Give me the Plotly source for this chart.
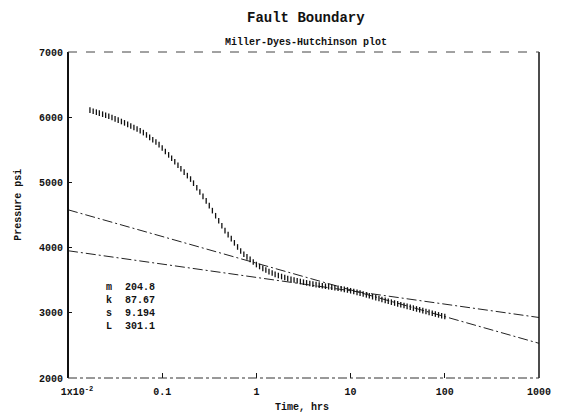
import plotly.graph_objects as go

# Drawdown data: elapsed time (hrs) and bottom-hole pressure (psi)
time_hrs = [
    0.0171, 0.0185, 0.0200, 0.0215, 0.0233, 0.0251, 0.0271, 0.0293, 0.0316, 0.0341,
    0.0369, 0.0398, 0.0430, 0.0464, 0.0501, 0.0541, 0.0584, 0.0631, 0.0681, 0.0736,
    0.0794, 0.0858, 0.0926,
    0.100, 0.108, 0.117, 0.126, 0.136, 0.147, 0.158, 0.171, 0.185, 0.200,
    0.215, 0.233, 0.251, 0.271, 0.293, 0.316, 0.341, 0.369, 0.398, 0.430,
    0.464, 0.501, 0.541, 0.584, 0.631, 0.681, 0.736, 0.794, 0.858, 0.926,
    1.00, 1.08, 1.17, 1.26, 1.36, 1.47, 1.58, 1.71, 1.85, 2.00,
    2.15, 2.33, 2.51, 2.71, 2.93, 3.16, 3.41, 3.69, 3.98, 4.30,
    4.64, 5.01, 5.41, 5.84, 6.31, 6.81, 7.36, 7.94, 8.58, 9.26,
    10.0, 10.8, 11.7, 12.6, 13.6, 14.7, 15.8, 17.1, 18.5, 20.0,
    21.5, 23.3, 25.1, 27.1, 29.3, 31.6, 34.1, 36.9, 39.8, 43.0,
    46.4, 50.1, 54.1, 58.4, 63.1, 68.1, 73.6, 79.4, 85.8, 92.6, 100.0,
]
pressure_psi = [
    6108, 6092, 6077, 6062, 6046, 6031, 6015, 5995, 5975, 5955,
    5934, 5913, 5890, 5866, 5842, 5818, 5793, 5764, 5728, 5691,
    5655, 5619, 5579,
    5527, 5475, 5422, 5370, 5317, 5263, 5210, 5158, 5104, 5051,
    4988, 4919, 4852, 4785, 4716, 4644, 4567, 4489, 4412, 4335,
    4261, 4199, 4137, 4073, 4010, 3948, 3897, 3858, 3819, 3779,
    3740, 3710, 3682, 3656, 3632, 3610, 3590, 3572, 3556, 3541,
    3527, 3514, 3502, 3491, 3480, 3469, 3459, 3449, 3440, 3432,
    3424, 3416, 3408, 3400, 3392, 3384, 3376, 3368, 3359, 3350,
    3338, 3326, 3314, 3301, 3288, 3275, 3261, 3247, 3233, 3219,
    3205, 3191, 3177, 3163, 3150, 3137, 3124, 3111, 3098, 3085,
    3072, 3059, 3046, 3033, 3020, 3007, 2994, 2981, 2968, 2955, 2943,
]

# Semilog straight lines: early-time (slope m) and post-fault (slope 2m)
fit_time = [0.01, 1000]
fit_early_psi = [3952, 2928]
fit_fault_psi = [4580, 2532]

# Analysis results
result_names = ["m", "k", "s", "L"]
result_values = ["204.8", "87.67", "9.194", "301.1"]

tick_vals = [0.01, 0.1, 1, 10, 100, 1000]
tick_text = ["&nbsp;&nbsp;&nbsp;1x10<sup>-2</sup>", "0.1", "1", "10", "100", "1000"]
y_ticks = [2000, 3000, 4000, 5000, 6000, 7000]

MONO = "Liberation Mono, Courier New, monospace"
INK = "#111111"

fig = go.Figure()

for ys in (fit_fault_psi, fit_early_psi):
    fig.add_trace(go.Scatter(
        x=fit_time, y=ys, mode="lines",
        line=dict(color="#222222", width=1, dash="10px,3px,2px,3px"),
        showlegend=False, hoverinfo="skip",
    ))

fig.add_trace(go.Scatter(
    x=time_hrs, y=pressure_psi, mode="markers",
    marker=dict(symbol="line-ns", size=4, color=INK,
                line=dict(color=INK, width=1.3)),
    showlegend=False,
))

fig.update_xaxes(
    type="log", range=[-2, 3],
    tickvals=tick_vals, ticktext=tick_text,
    ticks="inside", ticklen=5, tickcolor=INK, tickwidth=1,
    ticklabelstandoff=6,
    showgrid=False, zeroline=False, showline=False,
    tickfont=dict(family=MONO, size=10, color=INK, weight="bold"),
)
fig.update_yaxes(
    range=[2000, 7000], tickvals=y_ticks,
    ticks="inside", ticklen=4, tickcolor=INK, tickwidth=1,
    ticklabelstandoff=4,
    showgrid=False, zeroline=False, showline=False,
    tickfont=dict(family=MONO, size=10, color=INK, weight="bold"),
)

# Plot frame
frame = [
    dict(x0=0, x1=0, y0=0, y1=1, line=dict(color=INK, width=2)),
    dict(x0=1, x1=1, y0=0, y1=1, line=dict(color=INK, width=1.5)),
    dict(x0=0, x1=1, y0=0, y1=0, line=dict(color="#333333", width=1, dash="dashdot")),
    dict(x0=0, x1=1, y0=1, y1=1, line=dict(color="#444444", width=1, dash="dash")),
]
for s in frame:
    fig.add_shape(type="line", xref="x domain", yref="y domain", **s)

annotations = [
    dict(text="Fault Boundary", x=310, y=18, font=dict(size=14)),
    dict(text="Miller-Dyes-Hutchinson plot", x=310, y=43, font=dict(size=10)),
    dict(text="Time, hrs", x=306, y=407, font=dict(size=10)),
    dict(text="Pressure psi", x=18, y=205, font=dict(size=10), textangle=-90),
    dict(text="<br>".join(result_names), x=105, y=307, font=dict(size=10),
         xanchor="left", align="left"),
    dict(text="<br>".join(result_values), x=124, y=307, font=dict(size=10),
         xanchor="left", align="left"),
]
W, H = 563, 416
for a in annotations:
    font = dict(family=MONO, color=INK, weight="bold")
    font.update(a.pop("font"))
    fig.add_annotation(
        xref="paper", yref="paper",
        x=(a.pop("x") - 68) / (W - 68 - 16),
        y=1 - (a.pop("y") - 52) / (H - 52 - 38),
        xanchor=a.pop("xanchor", "center"), yanchor="middle",
        showarrow=False, font=font, **a,
    )

fig.update_layout(
    width=W, height=H,
    margin=dict(l=68, r=16, t=52, b=38),
    paper_bgcolor="white", plot_bgcolor="white",
)

fig.write_html("out.html")
